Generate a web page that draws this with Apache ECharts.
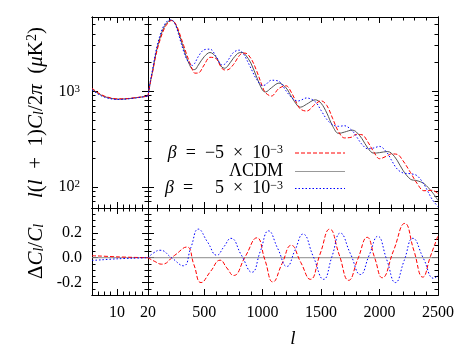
<!DOCTYPE html>
<html><head><meta charset="utf-8">
<script src="https://cdn.jsdelivr.net/npm/echarts@6/dist/echarts.min.js"></script>
<style>html,body{margin:0;padding:0;background:#fff}#c{width:463px;height:347px}</style>
</head><body><div id="c"></div>
<script>
// ---- data ----
const lLeft = [2,3,4,5,6,8,10,12,14,16,18,20];
const lcdmLeft = [1060,1000,950,910,880,845,828,830,840,855,872,890];
const redLeft  = [1077,1015,963,922,891,853,834,835,843,858,873,890];
const blueLeft = [1037,979,932,895,867,835,821,824,836,852,870,890];

const lRight = [20,40,60,80,100,125,150,175,200,220,240,260,280,300,325,350,375,400,420,450,500,550,600,650,675,700,750,800,825,850,900,950,1000,1025,1075,1140,1200,1250,1300,1325,1375,1450,1500,1550,1600,1650,1700,1765,1800,1850,1900,1950,2000,2066,2100,2150,2200,2265,2320,2380,2450,2500];
const lcdmRight = [890,1250,1650,2250,2900,3700,4500,5100,5480,5560,5380,4900,4200,3500,2800,2250,1900,1700,1690,1880,2300,2550,2300,1800,1745,1825,2220,2536,2550,2440,1975,1400,1025,985,1088,1220,1089,866,702,683,731,815,751,590,430,362,374,392,377,319,254,225,228,234,226,190,149,120,116,108,88,72];
const redRight = [890,1231,1601,2160,2761,3508,4275,4896,5343,5504,5396,4998,4376,3710,3018,2444,2018,1683,1550,1555,1886,2270,2208,1755,1675,1679,1903,2358,2499,2513,2212,1624,1107,965,892,1074,1143,953,716,649,621,734,796,708,516,376,325,332,354,351,295,233,197,211,221,219,188,141,109,91,92,85];
const blueRight = [890,1275,1716,2367,3068,3922,4734,5279,5579,5599,5364,4778,4011,3297,2618,2174,1976,1865,1967,2312,2723,2764,2351,1899,1918,2075,2546,2698,2565,2318,1746,1326,1149,1171,1306,1272,1014,854,791,804,852,778,631,507,446,430,436,388,340,278,250,255,265,226,192,154,140,137,131,106,74,62];

const dLeftL = [2,5,10,15,20];
const dRedLeft = [0.016,0.013,0.007,0.003,0];
const dBlueLeft = [-0.022,-0.017,-0.009,-0.004,0];

const dRedL = [20,78,137,245,352,413,474,555,637,694,751,851,951,1020,1088,1166,1245,1326,1408,1491,1574,1655,1736,1815,1894,1958,2023,2120,2216,2293,2370,2435,2500];
const dRedV = [0,-0.03,-0.052,0.017,0.086,-0.057,-0.2,-0.11,-0.02,-0.082,-0.143,0.008,0.16,-0.018,-0.195,-0.048,0.1,-0.037,-0.174,0.028,0.23,0.024,-0.182,-0.009,0.164,0.001,-0.161,0.058,0.276,0.06,-0.156,0.01,0.177];
const dBlueL = [20,70,123,223,323,387,451,530,609,669,729,819,909,980,1051,1130,1208,1277,1345,1434,1522,1594,1665,1751,1837,1911,1985,2061,2136,2211,2285,2375,2465,2500];
const dBlueV = [0,0.04,0.06,-0.002,-0.065,0.083,0.23,0.125,0.02,0.088,0.156,0.02,-0.117,0.05,0.216,0.073,-0.07,0.06,0.19,0.008,-0.174,0.012,0.198,0.032,-0.135,0.019,0.172,-0.014,-0.2,-0.022,0.156,-0.005,-0.166,-0.14];
const zeroLeft = [[2,0],[20,0]];
const zeroRight = [[20,0],[2500,0]];

// ---- ticks ----
const xLeftMajor = [10], xLeftMinor = [4,6,8,12,14,16,18], xLeftLabels = [10,20];
const xRightMajor = [500,1000,1500,2000], xRightLabels = [500,1000,1500,2000,2500];
const xRightMinor = [100,200,300,400,600,700,800,900,1100,1200,1300,1400,1600,1700,1800,1900,2100,2200,2300,2400];
const yTopMajor = [100,1000], yTopLabels = [100,1000];
const yTopMinor = [70,80,90,200,300,400,500,600,700,800,900,2000,3000,4000,5000];
const yBotMajor = [-0.2,0,0.2], yBotLabels = [-0.2,0,0.2];
const yBotMinor = [-0.25,-0.15,-0.1,-0.05,0.05,0.1,0.15,0.25,0.3,0.35];

const F = '"Liberation Serif","DejaVu Serif",serif';
const FS = 16;
const rich = {
  i:{fontStyle:'italic',fontFamily:F,fontSize:FS,color:'#000'},
  sup:{fontFamily:F,fontSize:11,verticalAlign:'top',color:'#000'}
};

const MAJ = 6, MIN = 3.5;
const xAxes = [], yAxes = [];
function tickAxis(o, ticks, len, labels){
  o.axisLine = {show:true,onZero:false,lineStyle:{color:'#000',width:1}};
  o.axisTick = {show:true,inside:true,length:len,customValues:ticks,lineStyle:{color:'#000',width:1}};
  o.splitLine = {show:false};
  o.axisLabel = labels ? Object.assign({show:true,customValues:labels.vals,fontFamily:F,fontSize:FS,color:'#000',rich:rich}, labels.opt) : {show:false};
  return o;
}
function addX(gi,pos,min,max,ticks,len,labels,extra){
  xAxes.push(Object.assign(tickAxis({type:'value',gridIndex:gi,position:pos,min:min,max:max},ticks,len,labels),extra||{}));
  return xAxes.length-1;
}
function addY(gi,pos,type,min,max,ticks,len,labels){
  const o={type:type,gridIndex:gi,position:pos,min:min,max:max};
  if(type==='log') o.logBase=10;
  yAxes.push(tickAxis(o,ticks,len,labels));
  return yAxes.length-1;
}
function buildGrid(gi,xr,yr){
  const xi = addX(gi,'bottom',xr.min,xr.max,xr.major,MAJ,xr.labels,xr.extra);
  addX(gi,'bottom',xr.min,xr.max,xr.minor,MIN);
  addX(gi,'top',xr.min,xr.max,xr.major,MAJ);
  addX(gi,'top',xr.min,xr.max,xr.minor,MIN);
  const yi = addY(gi,'left',yr.type,yr.min,yr.max,yr.major,MAJ,yr.labels);
  addY(gi,'left',yr.type,yr.min,yr.max,yr.minor,MIN);
  addY(gi,'right',yr.type,yr.min,yr.max,yr.major,MAJ);
  addY(gi,'right',yr.type,yr.min,yr.max,yr.minor,MIN);
  return [xi,yi];
}
const xL = {min:2,max:20,major:xLeftMajor,minor:xLeftMinor};
const xR = {min:20,max:2500,major:xRightMajor,minor:xRightMinor};
const yT = {type:'log',min:60,max:6000,major:yTopMajor,minor:yTopMinor};
const yB = {type:'value',min:-0.3,max:0.4,major:yBotMajor,minor:yBotMinor};

const g0 = buildGrid(0, xL, Object.assign({},yT,{labels:{vals:yTopLabels,opt:{margin:12,formatter:v=>'10{sup|'+Math.round(Math.log10(v))+'}'}}}));
const g1 = buildGrid(1, xR, yT);
const g2 = buildGrid(2, Object.assign({},xL,{labels:{vals:xLeftLabels,opt:{margin:10,formatter:v=>String(v)}}}),
                        Object.assign({},yB,{labels:{vals:yBotLabels,opt:{margin:10,formatter:v=>v.toFixed(1)}}}));
const g3 = buildGrid(3, Object.assign({},xR,{labels:{vals:xRightLabels,opt:{margin:10,formatter:v=>String(v)}},
                        extra:{name:'l',nameLocation:'middle',nameGap:34,nameTextStyle:{fontFamily:F,fontSize:19,fontStyle:'italic',color:'#000'}}}), yB);

const pairs = (xs,ys)=>xs.map((x,i)=>[x,ys[i]]);
const RED='#ff0000', BLUE='#0000ff', GRAY='#555555', ZERO='#8c8c8c';
function ser(g,data,color,type,smooth,w){
  return {type:'line',xAxisIndex:g[0],yAxisIndex:g[1],data:data,showSymbol:false,symbol:'none',smooth:smooth,
    lineStyle:{color:color,width:w||1,type:type},animation:false,silent:true};
}
const series = [
  ser(g0,pairs(lLeft,lcdmLeft),GRAY,'solid',0.3),
  ser(g0,pairs(lLeft,redLeft),RED,[4,2],0.3),
  ser(g0,pairs(lLeft,blueLeft),BLUE,[1.5,2],0.3),
  ser(g1,pairs(lRight,lcdmRight),GRAY,'solid',0.35),
  ser(g1,pairs(lRight,redRight),RED,[4,2],0.35),
  ser(g1,pairs(lRight,blueRight),BLUE,[1.5,2],0.35),
  ser(g2,zeroLeft,ZERO,'solid',false),
  ser(g2,pairs(dLeftL,dRedLeft),RED,[4,2],0.3),
  ser(g2,pairs(dLeftL,dBlueLeft),BLUE,[1.5,2],0.3),
  ser(g3,zeroRight,ZERO,'solid',false),
  ser(g3,pairs(dRedL,dRedV),RED,[4,2],0.5),
  ser(g3,pairs(dBlueL,dBlueV),BLUE,[1.5,2],0.5)
];

function txt(x,y,text,align,size,extra){
  return Object.assign({type:'text',x:x,y:y,silent:true,
    style:{text:text,align:align,verticalAlign:'middle',fontFamily:F,fontSize:size,fill:'#000',rich:{
      i:{fontStyle:'italic',fontFamily:F,fontSize:size,fill:'#000'},
      sup:{fontFamily:F,fontSize:Math.round(size*0.68),verticalAlign:'top',fill:'#000'},
      isub:{fontStyle:'italic',fontFamily:F,fontSize:Math.round(size*0.68),verticalAlign:'bottom',fill:'#000'}}}},extra||{});
}
const LS = 18;
const graphic = [
  txt(283,153,'{i|β}  =  −5  ×  10{sup|−3}','right',LS),
  txt(283,171.5,'ΛCDM','right',LS),
  txt(165,188.5,'{i|β}  =','left',LS),
  txt(283,188.5,'5  ×  10{sup|−3}','right',LS),
  {type:'line',silent:true,shape:{x1:295,y1:153,x2:345,y2:153},style:{stroke:RED,lineWidth:1,lineDash:[4,2]}},
  {type:'line',silent:true,shape:{x1:295,y1:171.5,x2:345,y2:171.5},style:{stroke:'#999',lineWidth:1}},
  {type:'line',silent:true,shape:{x1:295,y1:188.5,x2:345,y2:188.5},style:{stroke:BLUE,lineWidth:1,lineDash:[1.5,2]}},
  txt(36,112.5,'{i|l}({i|l}  +  1){i|C}{isub|l}/2{i|π}  ({i|μ}K{sup|2})','center',21,{rotation:Math.PI/2}),
  txt(36,251.5,'Δ{i|C}{isub|l}/{i|C}{isub|l}','center',21,{rotation:Math.PI/2})
];

const chart = echarts.init(document.getElementById('c'),null,{renderer:'canvas'});
chart.setOption({
  animation:false,
  backgroundColor:'#fff',
  grid:[
    {left:92,top:17,width:56,height:191,outerBoundsMode:'none'},
    {left:148,top:17,width:290,height:191,outerBoundsMode:'none'},
    {left:92,top:208,width:56,height:87,outerBoundsMode:'none'},
    {left:148,top:208,width:290,height:87,outerBoundsMode:'none'}
  ],
  xAxis:xAxes, yAxis:yAxes, series:series, graphic:graphic
});
</script></body></html>
